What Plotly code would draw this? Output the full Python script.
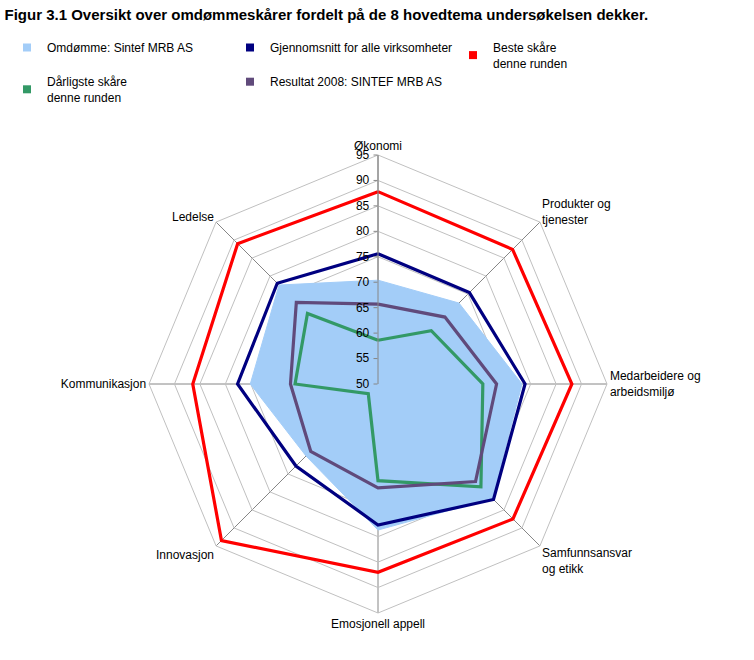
import plotly.graph_objects as go

categories = ["Økonomi", "Produkter og<br>tjenester", "Medarbeidere og<br>arbeidsmiljø",
              "Samfunnsansvar<br>og etikk", "Emosjonell appell", "Innovasjon",
              "Kommunikasjon", "Ledelse"]

omdomme = [70.4, 72.5, 78.3, 81.8, 78.7, 70.0, 75.1, 77.5]
gjennomsnitt = [75.6, 75.4, 78.9, 82.1, 77.7, 72.8, 77.6, 78.0]
beste = [87.8, 87.4, 88.1, 87.5, 87.0, 93.5, 86.4, 89.0]
darligste = [58.6, 64.8, 70.6, 78.6, 69.0, 52.7, 66.3, 69.6]
resultat2008 = [65.7, 68.6, 73.3, 77.1, 70.4, 68.7, 67.2, 72.7]

names = ["Omdømme: Sintef MRB AS", "Gjennomsnitt for alle virksomheter",
         "Beste skåre<br>denne runden", "Dårligste skåre<br>denne runden",
         "Resultat 2008: SINTEF MRB AS"]
colors = ["#a3cdf8", "#000080", "#ff0000", "#339966", "#604a7b"]

def closed(v):
    return v + v[:1]

theta = closed(categories)
fig = go.Figure()

# area
fig.add_trace(go.Scatterpolar(r=closed(omdomme), theta=theta, mode="lines", fill="toself",
                              fillcolor=colors[0], line=dict(color=colors[0], width=1),
                              showlegend=False, hoverinfo="skip"))
for vals, col in [(gjennomsnitt, colors[1]), (beste, colors[2]),
                  (darligste, colors[3]), (resultat2008, colors[4])]:
    fig.add_trace(go.Scatterpolar(r=closed(vals), theta=theta, mode="lines",
                                  line=dict(color=col, width=3.2),
                                  showlegend=False))

# legend entries
for nm, col in zip(names, colors):
    fig.add_trace(go.Scatterpolar(r=[None], theta=[categories[0]], mode="markers", name=nm,
                                  marker=dict(symbol="square", size=8, color=col,
                                              line=dict(color="white", width=0))))

fig.update_layout(
    width=754, height=660,
    margin=dict(l=0, r=0, t=0, b=0),
    paper_bgcolor="white", plot_bgcolor="white",
    font=dict(family="Liberation Sans, Arial, sans-serif", size=12, color="black"),
    title=dict(text="<b>Figur 3.1 Oversikt over omdømmeskårer fordelt på de 8 hovedtema undersøkelsen dekker.</b>",
               x=0.006, xanchor="left", y=1 - 15 / 660, yanchor="middle",
               font=dict(size=15, family="Liberation Sans, Arial, sans-serif", color="black")),
    legend=dict(orientation="h", x=7 / 754, xanchor="left", y=1 - 33 / 660, yanchor="top",
                entrywidth=178, entrywidthmode="pixels", itemwidth=30,
                font=dict(size=12), tracegroupgap=0, bgcolor="rgba(0,0,0,0)"),
    polar=dict(
        domain=dict(x=[149 / 754, 607 / 754], y=[47 / 660, 505 / 660]),
        bgcolor="white",
        gridshape="linear",
        radialaxis=dict(range=[50, 95], dtick=5, tick0=50, angle=90, tickangle=90,
                        side="counterclockwise", showline=True, linecolor="#868686",
                        linewidth=1, gridcolor="#c0c0c0", gridwidth=1,
                        ticks="outside", ticklen=4, tickcolor="#868686",
                        tickfont=dict(size=12, color="black")),
        angularaxis=dict(direction="clockwise", rotation=90, showline=True,
                         linecolor="#c0c0c0", linewidth=1, gridcolor="#868686",
                         ticks="", tickfont=dict(size=12, color="black")),
    ),
)

fig.write_html("out.html")
